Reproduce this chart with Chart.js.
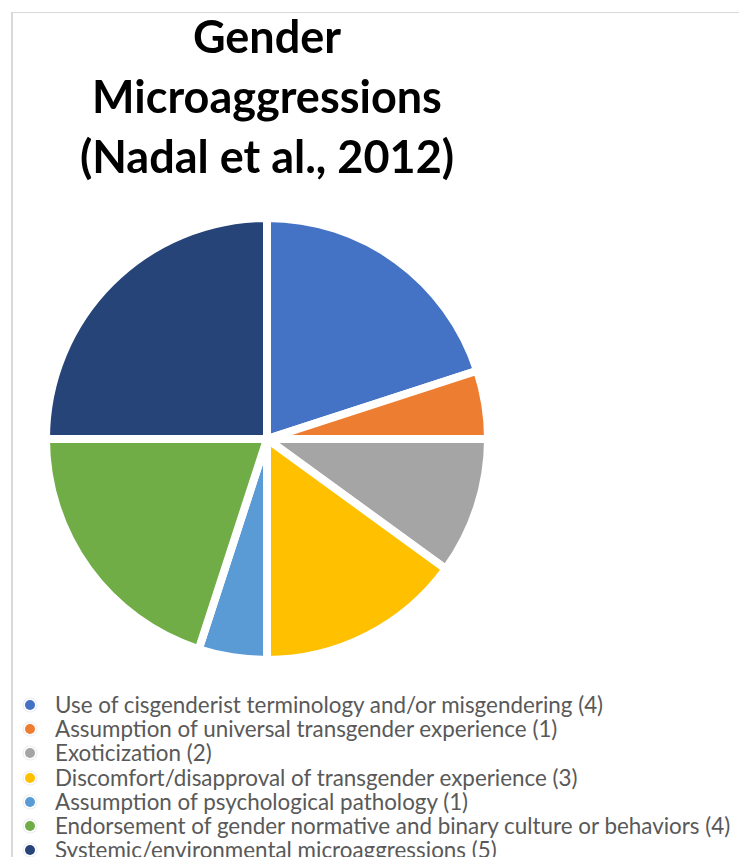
<!DOCTYPE html>
<html>
<head>
<meta charset="utf-8">
<script src="https://cdn.jsdelivr.net/npm/chart.js@4"></script>
<style>
  html, body { margin: 0; padding: 0; background: #fff; }
  body { width: 739px; height: 857px; position: relative; overflow: hidden; font-family: Lato, "Open Sans", sans-serif; }
  .marco { position: absolute; left: 11px; top: 12px; right: 0; bottom: 0; border-left: 2px solid #d9d9d9; border-top: 1px solid #d9d9d9; }
  .grafico { position: absolute; left: 13px; top: 0; width: 508px; height: 670px; }
  #leyenda { position: absolute; left: 24px; top: 693px; margin: 0; padding: 0; list-style: none; }
  #leyenda li { height: 24.2px; line-height: 24px; font-size: 22.4px; color: #595959; white-space: nowrap; display: flex; align-items: center; }
  #leyenda .punto { width: 10px; height: 10px; border-radius: 50%; margin-left: 1px; margin-right: 20px; box-shadow: 0 0 0 1.5px rgba(255,255,255,1), 0 0 0 2.5px rgba(200,200,220,0.35); flex: none; }
</style>
</head>
<body>
<div class="marco"></div>
<div class="grafico"><canvas id="chartGenero"></canvas></div>
<ul id="leyenda"></ul>

<script>
// ================================
// Datos del gráfico
// ================================
const tituloLineas = ["Gender", "Microaggressions", "(Nadal et al., 2012)"];

const categorias = [
  "Use of cisgenderist terminology and/or misgendering",
  "Assumption of universal transgender experience",
  "Exoticization",
  "Discomfort/disapproval of transgender experience",
  "Assumption of psychological pathology",
  "Endorsement of gender normative and binary culture or behaviors",
  "Systemic/environmental microaggressions",
];

const conteos = [4, 1, 2, 3, 1, 4, 5];

const colores = ["#4472C4", "#ED7D31", "#A5A5A5", "#FFC000", "#5B9BD5", "#70AD47", "#264478"];

// etiquetas con el conteo entre paréntesis
const etiquetas = categorias.map((c, i) => `${c} (${conteos[i]})`);

// ================================
// Gráfico de pastel
// ================================
const ctx = document.getElementById("chartGenero");

new Chart(ctx, {
  type: "pie",
  data: {
    labels: etiquetas,
    datasets: [
      {
        data: conteos,
        backgroundColor: colores,
        borderColor: "#ffffff",
        borderWidth: 8,
        hoverOffset: 0,
      },
    ],
  },
  options: {
    responsive: true,
    maintainAspectRatio: false,
    animation: false,
    layout: { padding: { top: 0, bottom: 6, left: 0, right: 0 } },
    plugins: {
      legend: { display: false },
      tooltip: { enabled: false },
      title: {
        display: true,
        text: tituloLineas,
        color: "#000000",
        font: { family: "Lato", size: 45, weight: "bold", lineHeight: "60px" },
        padding: { top: 8, bottom: 26 },
      },
    },
  },
});

// ================================
// Leyenda (una entrada por línea)
// ================================
const leyendaEl = document.getElementById("leyenda");
etiquetas.forEach((texto, i) => {
  const li = document.createElement("li");
  const punto = document.createElement("span");
  punto.className = "punto";
  punto.style.background = colores[i];
  const span = document.createElement("span");
  span.textContent = texto;
  li.appendChild(punto);
  li.appendChild(span);
  leyendaEl.appendChild(li);
});
</script>
</body>
</html>
